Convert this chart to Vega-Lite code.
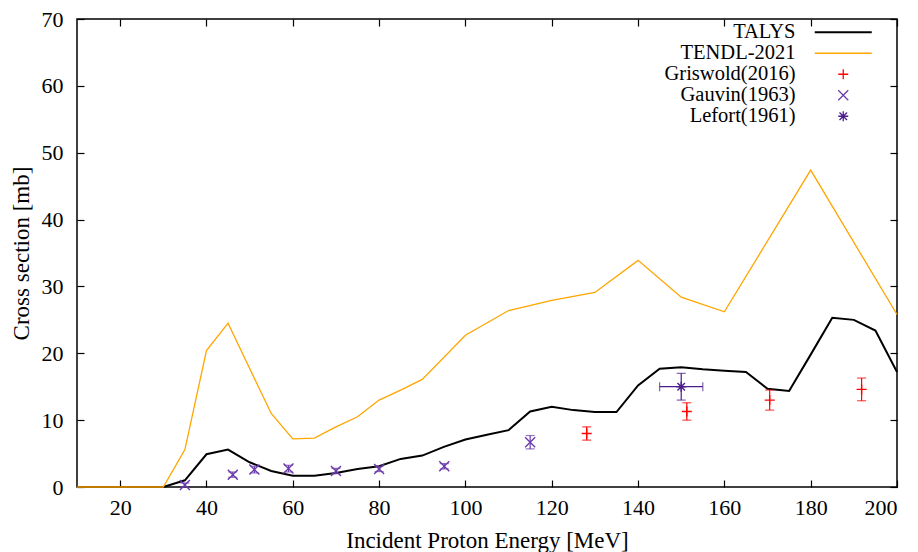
{
  "$schema": "https://vega.github.io/schema/vega-lite/v6.json",
  "width": 820,
  "height": 468,
  "autosize": {"type": "none"},
  "padding": {"left": 77, "top": 19, "right": 21, "bottom": 65},
  "background": "white",
  "config": {
    "font": "Liberation Serif",
    "view": {"stroke": "black", "strokeWidth": 1.5},
    "axis": {
      "domain": false,
      "grid": false,
      "tickColor": "black",
      "tickSize": -7,
      "tickWidth": 1.2,
      "labelFont": "Liberation Serif",
      "labelFontSize": 22,
      "labelColor": "black",
      "titleFont": "Liberation Serif",
      "titleFontSize": 23,
      "titleFontWeight": "normal",
      "titleColor": "black"
    },
    "legend": {
      "orient": "none",
      "legendX": 756,
      "legendY": 3,
      "padding": 0,
      "labelFont": "Liberation Serif",
      "labelFontSize": 20.5,
      "labelColor": "black",
      "labelAlign": "right",
      "labelOffset": -58,
      "labelLimit": 0,
      "symbolSize": 100,
      "rowPadding": -1,
      "symbolStrokeWidth": 1.3
    }
  },
  "datasets": {
    "model": [
      {"E": 10, "xs": 0, "series": "TALYS"},
      {"E": 15, "xs": 0, "series": "TALYS"},
      {"E": 20, "xs": 0, "series": "TALYS"},
      {"E": 25, "xs": 0, "series": "TALYS"},
      {"E": 30, "xs": 0, "series": "TALYS"},
      {"E": 35, "xs": 1.0, "series": "TALYS"},
      {"E": 40, "xs": 4.9, "series": "TALYS"},
      {"E": 45, "xs": 5.6, "series": "TALYS"},
      {"E": 50, "xs": 3.7, "series": "TALYS"},
      {"E": 55, "xs": 2.4, "series": "TALYS"},
      {"E": 60, "xs": 1.7, "series": "TALYS"},
      {"E": 65, "xs": 1.7, "series": "TALYS"},
      {"E": 70, "xs": 2.1, "series": "TALYS"},
      {"E": 75, "xs": 2.7, "series": "TALYS"},
      {"E": 80, "xs": 3.1, "series": "TALYS"},
      {"E": 85, "xs": 4.2, "series": "TALYS"},
      {"E": 90, "xs": 4.7, "series": "TALYS"},
      {"E": 95, "xs": 6.0, "series": "TALYS"},
      {"E": 100, "xs": 7.1, "series": "TALYS"},
      {"E": 105, "xs": 7.8, "series": "TALYS"},
      {"E": 110, "xs": 8.5, "series": "TALYS"},
      {"E": 115, "xs": 11.3, "series": "TALYS"},
      {"E": 120, "xs": 12.0, "series": "TALYS"},
      {"E": 125, "xs": 11.5, "series": "TALYS"},
      {"E": 130, "xs": 11.2, "series": "TALYS"},
      {"E": 135, "xs": 11.2, "series": "TALYS"},
      {"E": 140, "xs": 15.2, "series": "TALYS"},
      {"E": 145, "xs": 17.7, "series": "TALYS"},
      {"E": 150, "xs": 17.9, "series": "TALYS"},
      {"E": 155, "xs": 17.6, "series": "TALYS"},
      {"E": 160, "xs": 17.4, "series": "TALYS"},
      {"E": 165, "xs": 17.2, "series": "TALYS"},
      {"E": 170, "xs": 14.7, "series": "TALYS"},
      {"E": 175, "xs": 14.35, "series": "TALYS"},
      {"E": 180, "xs": 19.8, "series": "TALYS"},
      {"E": 185, "xs": 25.3, "series": "TALYS"},
      {"E": 190, "xs": 25.0, "series": "TALYS"},
      {"E": 195, "xs": 23.4, "series": "TALYS"},
      {"E": 200, "xs": 17.2, "series": "TALYS"},
      {"E": 10, "xs": 0, "series": "TENDL-2021"},
      {"E": 20, "xs": 0, "series": "TENDL-2021"},
      {"E": 30, "xs": 0, "series": "TENDL-2021"},
      {"E": 35, "xs": 5.6, "series": "TENDL-2021"},
      {"E": 40, "xs": 20.4, "series": "TENDL-2021"},
      {"E": 45, "xs": 24.5, "series": "TENDL-2021"},
      {"E": 55, "xs": 11.0, "series": "TENDL-2021"},
      {"E": 60, "xs": 7.2, "series": "TENDL-2021"},
      {"E": 65, "xs": 7.3, "series": "TENDL-2021"},
      {"E": 70, "xs": 9.0, "series": "TENDL-2021"},
      {"E": 75, "xs": 10.5, "series": "TENDL-2021"},
      {"E": 80, "xs": 13.0, "series": "TENDL-2021"},
      {"E": 85, "xs": 14.5, "series": "TENDL-2021"},
      {"E": 90, "xs": 16.1, "series": "TENDL-2021"},
      {"E": 100, "xs": 22.7, "series": "TENDL-2021"},
      {"E": 110, "xs": 26.4, "series": "TENDL-2021"},
      {"E": 120, "xs": 27.9, "series": "TENDL-2021"},
      {"E": 130, "xs": 29.1, "series": "TENDL-2021"},
      {"E": 140, "xs": 33.9, "series": "TENDL-2021"},
      {"E": 150, "xs": 28.4, "series": "TENDL-2021"},
      {"E": 160, "xs": 26.2, "series": "TENDL-2021"},
      {"E": 180, "xs": 47.4, "series": "TENDL-2021"},
      {"E": 200, "xs": 25.8, "series": "TENDL-2021"}
    ],
    "exp": [
      {"E": 128.1, "xs": 8.0, "lo": 7.0, "hi": 9.0, "series": "Griswold(2016)"},
      {"E": 151.3, "xs": 11.3, "lo": 10.0, "hi": 12.6, "series": "Griswold(2016)"},
      {"E": 170.5, "xs": 13.0, "lo": 11.5, "hi": 14.5, "series": "Griswold(2016)"},
      {"E": 191.8, "xs": 14.6, "lo": 12.9, "hi": 16.3, "series": "Griswold(2016)"},
      {"E": 35.0, "xs": 0.3, "lo": 0.0, "hi": 0.6, "series": "Gauvin(1963)"},
      {"E": 46.1, "xs": 1.85, "lo": 1.45, "hi": 2.25, "series": "Gauvin(1963)"},
      {"E": 51.1, "xs": 2.6, "lo": 2.1, "hi": 3.1, "series": "Gauvin(1963)"},
      {"E": 59.0, "xs": 2.75, "lo": 2.25, "hi": 3.25, "series": "Gauvin(1963)"},
      {"E": 70.0, "xs": 2.4, "lo": 2.0, "hi": 2.8, "series": "Gauvin(1963)"},
      {"E": 80.0, "xs": 2.7, "lo": 2.3, "hi": 3.1, "series": "Gauvin(1963)"},
      {"E": 95.1, "xs": 3.1, "lo": 2.7, "hi": 3.5, "series": "Gauvin(1963)"},
      {"E": 115.0, "xs": 6.7, "lo": 5.7, "hi": 7.7, "series": "Gauvin(1963)"},
      {"E": 150.0, "xs": 15.0, "lo": 13.0, "hi": 17.0, "Elo": 145.0, "Ehi": 155.0, "series": "Lefort(1961)"}
    ]
  },
  "layer": [
    {
      "data": {"name": "model"},
      "transform": [{"filter": "datum.series == 'TALYS'"}],
      "mark": {"type": "line", "strokeWidth": 2},
      "encoding": {
        "x": {"field": "E", "type": "quantitative", "scale": {"domain": [10, 200], "nice": false, "zero": false},
              "axis": {"orient": "bottom", "values": [20, 40, 60, 80, 100, 120, 140, 160, 180, 200], "title": "Incident Proton Energy [MeV]", "labelPadding": 17, "titlePadding": 11}},
        "y": {"field": "xs", "type": "quantitative", "scale": {"domain": [0, 70], "nice": false},
              "axis": {"orient": "left", "values": [0, 10, 20, 30, 40, 50, 60, 70], "title": "Cross section [mb]", "labelPadding": 21, "titlePadding": 8}},
        "color": {"field": "series", "type": "nominal",
                  "scale": {"domain": ["TALYS", "TENDL-2021", "Griswold(2016)", "Gauvin(1963)", "Lefort(1961)"], "range": ["black", "#ffa500", "#ff0000", "#6a3aab", "#4a1f8c"]},
                  "legend": {"title": null, "encode": {"symbols": {"update": {"size": {"signal": "datum.value == 'TALYS' || datum.value == 'TENDL-2021' ? 3249 : 100"}, "strokeWidth": {"signal": "datum.value == 'TALYS' ? 2 : 1.3"}}}}}}
      }
    },
    {
      "data": {"name": "model"},
      "transform": [{"filter": "datum.series == 'TENDL-2021'"}],
      "mark": {"type": "line", "strokeWidth": 1.3},
      "encoding": {
        "x": {"field": "E", "type": "quantitative", "scale": {"domain": [10, 200], "nice": false, "zero": false}, "axis": null},
        "y": {"field": "xs", "type": "quantitative", "scale": {"domain": [0, 70], "nice": false}, "axis": null},
        "color": {"field": "series", "type": "nominal"}
      }
    },
    {
      "data": {"name": "exp"},
      "mark": {"type": "rule", "strokeWidth": 1.2},
      "encoding": {
        "x": {"field": "E", "type": "quantitative", "scale": {"domain": [10, 200], "nice": false, "zero": false}, "axis": null},
        "y": {"field": "lo", "type": "quantitative", "scale": {"domain": [0, 70], "nice": false}, "axis": null},
        "y2": {"field": "hi"},
        "color": {"field": "series", "type": "nominal"}
      }
    },
    {
      "data": {"name": "exp"},
      "mark": {"type": "tick", "orient": "horizontal", "size": 9, "thickness": 1.2},
      "encoding": {
        "x": {"field": "E", "type": "quantitative", "scale": {"domain": [10, 200], "nice": false, "zero": false}, "axis": null},
        "y": {"field": "lo", "type": "quantitative", "scale": {"domain": [0, 70], "nice": false}, "axis": null},
        "color": {"field": "series", "type": "nominal"}
      }
    },
    {
      "data": {"name": "exp"},
      "mark": {"type": "tick", "orient": "horizontal", "size": 9, "thickness": 1.2},
      "encoding": {
        "x": {"field": "E", "type": "quantitative", "scale": {"domain": [10, 200], "nice": false, "zero": false}, "axis": null},
        "y": {"field": "hi", "type": "quantitative", "scale": {"domain": [0, 70], "nice": false}, "axis": null},
        "color": {"field": "series", "type": "nominal"}
      }
    },
    {
      "data": {"name": "exp"},
      "transform": [{"filter": "isValid(datum.Elo)"}],
      "mark": {"type": "rule", "strokeWidth": 1.2},
      "encoding": {
        "x": {"field": "Elo", "type": "quantitative", "scale": {"domain": [10, 200], "nice": false, "zero": false}, "axis": null},
        "x2": {"field": "Ehi"},
        "y": {"field": "xs", "type": "quantitative", "scale": {"domain": [0, 70], "nice": false}, "axis": null},
        "color": {"field": "series", "type": "nominal"}
      }
    },
    {
      "data": {"name": "exp"},
      "transform": [{"filter": "isValid(datum.Elo)"}],
      "mark": {"type": "tick", "orient": "vertical", "size": 9, "thickness": 1.2},
      "encoding": {
        "x": {"field": "Elo", "type": "quantitative", "scale": {"domain": [10, 200], "nice": false, "zero": false}, "axis": null},
        "y": {"field": "xs", "type": "quantitative", "scale": {"domain": [0, 70], "nice": false}, "axis": null},
        "color": {"field": "series", "type": "nominal"}
      }
    },
    {
      "data": {"name": "exp"},
      "transform": [{"filter": "isValid(datum.Elo)"}],
      "mark": {"type": "tick", "orient": "vertical", "size": 9, "thickness": 1.2},
      "encoding": {
        "x": {"field": "Ehi", "type": "quantitative", "scale": {"domain": [10, 200], "nice": false, "zero": false}, "axis": null},
        "y": {"field": "xs", "type": "quantitative", "scale": {"domain": [0, 70], "nice": false}, "axis": null},
        "color": {"field": "series", "type": "nominal"}
      }
    },
    {
      "data": {"name": "exp"},
      "mark": {"type": "point", "filled": false, "size": 100, "strokeWidth": 1.4, "opacity": 1},
      "encoding": {
        "x": {"field": "E", "type": "quantitative", "scale": {"domain": [10, 200], "nice": false, "zero": false},
              "axis": {"orient": "top", "values": [20, 40, 60, 80, 100, 120, 140, 160, 180, 200], "labels": false, "title": null}},
        "y": {"field": "xs", "type": "quantitative", "scale": {"domain": [0, 70], "nice": false},
              "axis": {"orient": "right", "values": [0, 10, 20, 30, 40, 50, 60, 70], "labels": false, "title": null}},
        "color": {"field": "series", "type": "nominal"},
        "shape": {"field": "series", "type": "nominal",
                  "scale": {"domain": ["TALYS", "TENDL-2021", "Griswold(2016)", "Gauvin(1963)", "Lefort(1961)"],
                            "range": ["stroke", "stroke", "M-1,0L1,0M0,-1L0,1", "M-1,-1L1,1M-1,1L1,-1", "M-1,0L1,0M0,-1L0,1M-0.75,-0.75L0.75,0.75M-0.75,0.75L0.75,-0.75"]},
                  "legend": {"title": null}}
      }
    }
  ]
}
